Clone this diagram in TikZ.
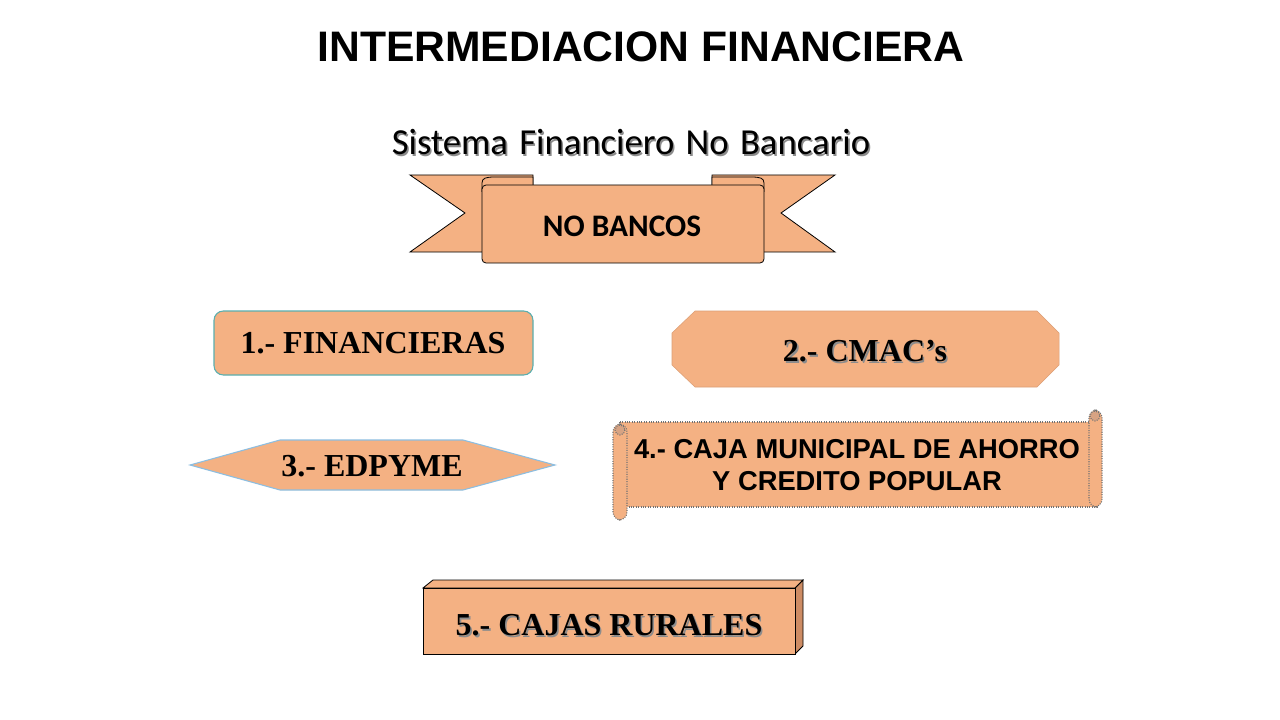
\documentclass[tikz,border=0pt]{standalone}
\usepackage{fontspec}
\setmainfont{Liberation Serif}
\newfontfamily\arialf{Liberation Sans}
\newfontfamily\calibf{Carlito}
\definecolor{salmon}{RGB}{244,177,131}
\definecolor{salmondk}{RGB}{205,140,100}
\definecolor{tealb}{RGB}{90,175,175}
\definecolor{lblue}{RGB}{140,190,225}
\newcommand{\shtxt}[1]{\rlap{\kern1.2pt\raisebox{-1.2pt}{\textcolor{black!45}{#1}}}#1}
\tikzset{
  shp/.style={fill=salmon},
  tnr/.style={font=\bfseries\fontsize{24}{28}\selectfont},
}
\begin{document}
\begin{tikzpicture}[x=0.75pt,y=-0.75pt]
\useasboundingbox (0,0) rectangle (1280,720);
\fill[white] (0,0) rectangle (1280,720);
% title
\node[font=\arialf\bfseries\fontsize{32}{36}\selectfont] (title) at (641,47) {INTERMEDIACION FINANCIERA};
\node[font=\calibf\fontsize{27.5}{30}\selectfont] (sub) at (631,143) {\shtxt{Sistema\hspace{0.31em}Financiero\hspace{0.31em}No\hspace{0.31em}Bancario}};
% ribbon
\draw[shp,draw=black,line width=0.6pt] (410,175) -- (533,175) -- (533,252) -- (410,252) -- (465,213) -- cycle;
\draw[shp,draw=black,line width=0.6pt] (835,175) -- (712,175) -- (712,252) -- (835,252) -- (781,213) -- cycle;
\draw[shp,draw=black,line width=0.6pt] (482,192) -- (482,183) .. controls (482,178) and (486,177) .. (495,177) -- (533,177) -- (533,192);
\draw[shp,draw=black,line width=0.6pt] (764,192) -- (764,183) .. controls (764,178) and (760,177) .. (751,177) -- (712,177) -- (712,192);
\draw[shp,draw=black,line width=0.6pt,rounded corners=3pt] (482,185) -- (764,185) -- (764,263) -- (482,263) -- cycle;
\node[font=\calibf\bfseries\fontsize{23.5}{26}\selectfont] (nob) at (622,226) {NO BANCOS};
% 1 financieras
\draw[shp,draw=tealb,line width=0.8pt,rounded corners=7pt] (214,311) rectangle (533,375);
\node[tnr] (fin) at (373,343) {1.- FINANCIERAS};
% 2 CMAC
\draw[shp,draw=salmon!90!black,line width=0.4pt] (695,311) -- (1037,311) -- (1059,333) -- (1059,365) -- (1037,387) -- (695,387) -- (672,365) -- (672,333) -- cycle;
\node[tnr] (cmac) at (865,352) {\shtxt{2.- CMAC’s}};
% 3 EDPYME
\draw[shp,draw=lblue,line width=0.8pt] (190,465) -- (280,440) -- (463,440) -- (555,465) -- (463,490) -- (280,490) -- cycle;
\node[tnr] (edp) at (372,466) {3.- EDPYME};
% 4 scroll
\begin{scope}[draw=black!55,densely dotted,line width=0.8pt]
\draw[shp] (620,422) rectangle (1097,507);
\draw[shp,rounded corners=6pt] (1089,410) rectangle (1102,507);
\draw[fill=salmondk!80] (1095,416) circle (5);
\draw[shp,rounded corners=6pt] (613,424) rectangle (627,520);
\draw[fill=salmondk!80] (620,430) circle (5);
\end{scope}
\node[font=\arialf\bfseries\fontsize{20.5}{24.5}\selectfont,align=center] (caja) at (857,465) {4.- CAJA MUNICIPAL DE AHORRO\\Y CREDITO POPULAR};
% 5 cajas rurales
\draw[fill=salmondk,draw=black,line width=0.6pt] (795,588) -- (803,580) -- (803,646) -- (795,654) -- cycle;
\draw[shp,draw=black,line width=0.6pt] (423,588) -- (433,580) -- (803,580) -- (795,588) -- cycle;
\draw[shp,draw=black,line width=0.6pt] (423,588) rectangle (795,654);
\node[tnr] (rur) at (609,626) {\shtxt{5.- CAJAS RURALES}};
\end{tikzpicture}
\end{document}
